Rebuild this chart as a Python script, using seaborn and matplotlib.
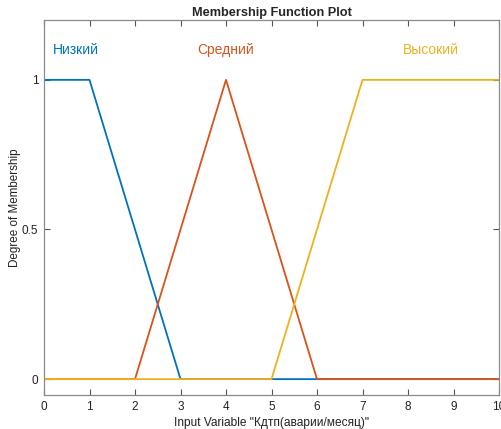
import matplotlib
matplotlib.use("Agg")
import matplotlib.pyplot as plt
import seaborn as sns
import pandas as pd

sns.set_theme(style="white")
plt.rcParams["font.family"] = ["Liberation Sans", "DejaVu Sans"]

# Membership functions of the input variable
names = ["Низкий", "Средний", "Высокий"]
low_x = [0, 1, 3, 10]
low_y = [1, 1, 0, 0]
mid_x = [0, 2, 4, 6, 10]
mid_y = [0, 0, 1, 0, 0]
high_x = [0, 5, 7, 10]
high_y = [0, 0, 1, 1]
colors = ["#0072BD", "#D95319", "#EDB120"]
label_x = [0.7, 4.0, 8.5]
label_y = 1.1

xticks = list(range(0, 11))
yticks = [0, 0.5, 1]
ytick_labels = ["0", "0.5", "1"]

frames = []
for name, xs, ys in zip(names, [low_x, mid_x, high_x], [low_y, mid_y, high_y]):
    frames.append(pd.DataFrame({"x": xs, "y": ys, "mf": name}))
df = pd.concat(frames, ignore_index=True)

fig = plt.figure(figsize=(5.02, 4.29), dpi=100)
ax = fig.add_axes([44 / 502, 34 / 429, 455 / 502, 375 / 429])

sns.lineplot(data=df, x="x", y="y", hue="mf", palette=dict(zip(names, colors)),
             estimator=None, sort=False, linewidth=1.3, legend=False, ax=ax)

for name, c, lx in zip(names, colors, label_x):
    ax.text(lx, label_y, name, color=c, fontsize=10, ha="center", va="center")

ax.set_xlim(0, 10)
ax.set_ylim(-0.053, 1.2)
ax.set_xticks(xticks)
ax.set_yticks(yticks)
ax.set_yticklabels(ytick_labels)
ax.tick_params(direction="in", length=4, width=0.8, color="#555555",
               labelsize=8.5, labelcolor="#222222", top=True, bottom=True,
               left=True, right=True, pad=4)
for s in ax.spines.values():
    s.set_color("#8a8a8a")
    s.set_linewidth(0.9)

ax.set_xlabel('Input Variable "Кдтп(аварии/месяц)"', fontsize=8.6, color="#222222", labelpad=3)
ax.set_ylabel("Degree of Membership", fontsize=8.4, color="#222222")
ax.yaxis.set_label_coords(-0.064, 0.5)
ax.yaxis.label.set_verticalalignment("center")
ax.set_title("Membership Function Plot", fontsize=9.2, fontweight="bold", pad=3)

fig.savefig("out.png", dpi=100)
